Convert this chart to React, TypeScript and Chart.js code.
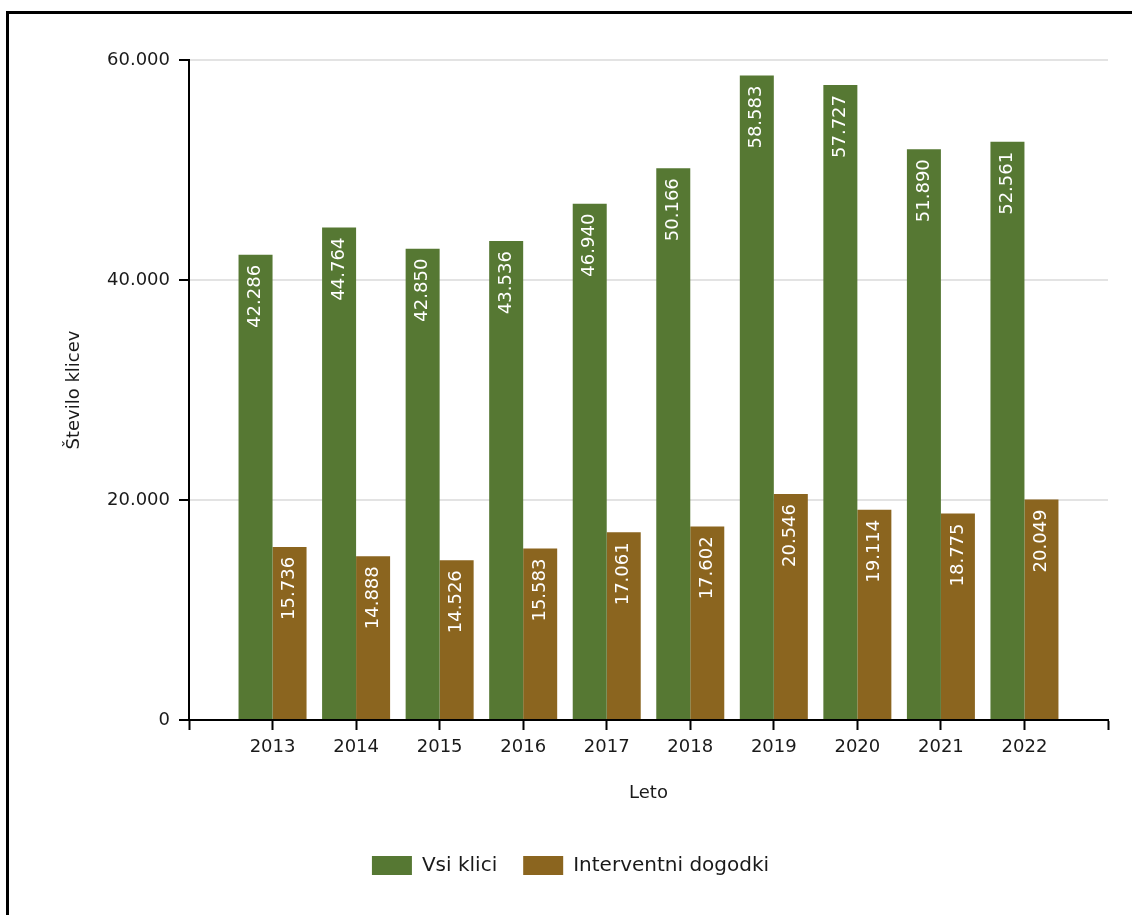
import React, { useEffect, useRef } from 'react';
import { Chart, registerables } from 'chart.js';

Chart.register(...registerables);

const years = [2013, 2014, 2015, 2016, 2017, 2018, 2019, 2020, 2021, 2022];
const vsiKlici = [42286, 44764, 42850, 43536, 46940, 50166, 58583, 57727, 51890, 52561];
const interventni = [15736, 14888, 14526, 15583, 17061, 17602, 20546, 19114, 18775, 20049];
const seriesNames = ['Vsi klici', 'Interventni dogodki'];
const seriesColors = ['#567833', '#8B651F'];
const yMin = 0;
const yMax = 60000;
const yStep = 20000;
const xTitle = 'Leto';
const yTitle = 'Število klicev';

const FONT = "'DejaVu Sans', sans-serif";
const TEXT = '#1a1a1a';

const fmt = (v: number) => String(Math.round(v)).replace(/\B(?=(\d{3})+(?!\d))/g, '.');

const barLabels = {
  id: 'barLabels',
  afterDatasetsDraw(chart: any) {
    const ctx = chart.ctx;
    chart.data.datasets.forEach((ds: any, di: number) => {
      const meta = chart.getDatasetMeta(di);
      meta.data.forEach((el: any, i: number) => {
        const v = ds.data[i].y;
        ctx.save();
        ctx.translate(el.x, el.y + 10);
        ctx.rotate(-Math.PI / 2);
        ctx.font = `18px ${FONT}`;
        ctx.fillStyle = '#ffffff';
        ctx.textAlign = 'right';
        ctx.textBaseline = 'middle';
        ctx.fillText(fmt(v), 0, 0);
        ctx.restore();
      });
    });
  },
};

export default function App() {
  const ref = useRef<HTMLCanvasElement>(null);

  useEffect(() => {
    document.documentElement.style.overflow = 'hidden';
    document.body.style.overflow = 'hidden';
    const chart = new Chart(ref.current as HTMLCanvasElement, {
      type: 'bar',
      data: {
        datasets: [
          {
            label: seriesNames[0],
            data: years.map((y, i) => ({ x: y, y: vsiKlici[i] })),
            backgroundColor: seriesColors[0],
            borderWidth: 0,
          },
          {
            label: seriesNames[1],
            data: years.map((y, i) => ({ x: y, y: interventni[i] })),
            backgroundColor: seriesColors[1],
            borderWidth: 0,
          },
        ],
      },
      options: {
        animation: false,
        responsive: false,
        devicePixelRatio: 1,
        categoryPercentage: 0.814,
        barPercentage: 1,
        layout: { padding: { top: 46, right: 24, bottom: 29.5, left: 24 } },
        plugins: {
          legend: {
            position: 'bottom',
            labels: {
              boxWidth: 40,
              boxHeight: 19,
              padding: 26,
              color: TEXT,
              font: { family: FONT, size: 20 },
            },
          },
          tooltip: { enabled: false },
        },
        scales: {
          x: {
            type: 'linear',
            offset: false,
            min: years[0] - 1,
            max: years[years.length - 1] + 1,
            ticks: {
              stepSize: 1,
              autoSkip: false,
              maxRotation: 0,
              padding: 7,
              color: TEXT,
              font: { family: FONT, size: 18 },
              callback: (v: any) => (years.includes(Number(v)) ? String(v) : ''),
            },
            grid: {
              offset: false,
              drawOnChartArea: false,
              drawTicks: true,
              tickLength: 10,
              color: '#000',
              tickColor: '#000',
              tickWidth: 2,
            },
            border: { color: '#000', width: 2 },
            title: {
              display: true,
              text: xTitle,
              color: TEXT,
              font: { family: FONT, size: 18 },
              padding: { top: 0, bottom: 25.5 },
            },
            afterFit: (s: any) => {
              s.height = 109.5;
            },
          },
          y: {
            min: yMin,
            max: yMax,
            ticks: {
              stepSize: yStep,
              padding: 9,
              color: TEXT,
              font: { family: FONT, size: 18 },
              callback: (v: any) => fmt(Number(v)),
            },
            grid: {
              color: (c: any) => (c.tick && c.tick.value === 0 ? 'rgba(0,0,0,0)' : '#e3e3e3'),
              lineWidth: 2,
              tickLength: 10,
              tickColor: '#000',
              tickWidth: 2,
            },
            border: { color: '#000', width: 2 },
            title: {
              display: true,
              text: yTitle,
              color: TEXT,
              font: { family: FONT, size: 18 },
              padding: { top: 31, bottom: 0 },
            },
            afterFit: (s: any) => {
              s.width = 156;
            },
          },
        },
      } as any,
      plugins: [barLabels],
    });
    return () => chart.destroy();
  }, []);

  return (
    <div
      style={{
        position: 'fixed',
        left: 6,
        top: 11,
        width: 1200,
        height: 1000,
        border: '3px solid #000',
        background: '#fff',
      }}
    >
      <canvas ref={ref} width={1123} height={901} style={{ display: 'block', width: 1123, height: 901 }} />
    </div>
  );
}
